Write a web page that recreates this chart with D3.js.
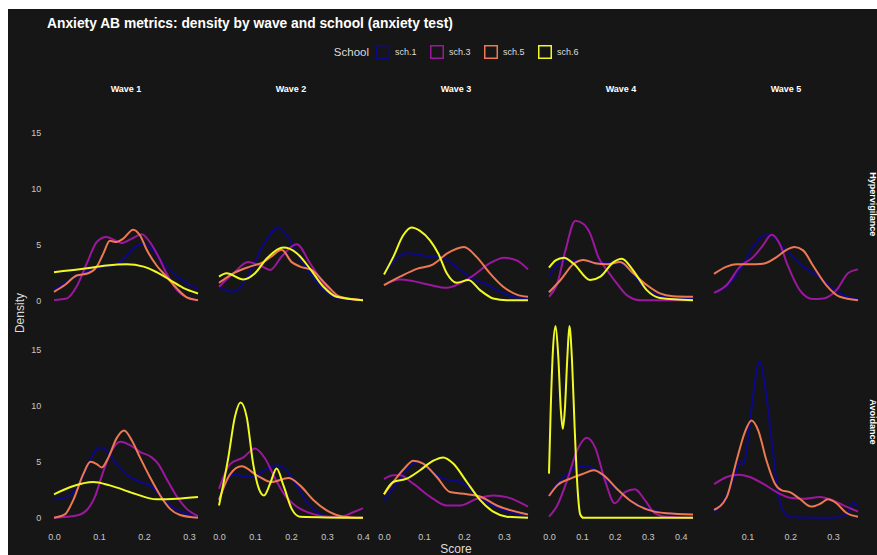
<!DOCTYPE html>
<html>
<head>
<meta charset="utf-8">
<script src="https://cdn.jsdelivr.net/npm/d3@7"></script>
<style>
  html, body { margin: 0; padding: 0; background: #ffffff; }
  svg { display: block; font-family: "Liberation Sans", Arial, sans-serif; }
</style>
</head>
<body>
<svg id="chart"></svg>
<script>
// ---- chart data ----
const SCHOOLS = ["sch.1", "sch.3", "sch.5", "sch.6"];
const SCHOOL_COLORS = ["#0d0887", "#9c179e", "#ed7953", "#f0f921"];
const WAVES = ["Wave 1", "Wave 2", "Wave 3", "Wave 4", "Wave 5"];
const METRICS = ["Hypervigilance", "Avoidance"];
const X_TICKS = [
    [0, 0.1, 0.2, 0.3],
    [0, 0.1, 0.2, 0.3, 0.4],
    [0, 0.1, 0.2, 0.3],
    [0, 0.1, 0.2, 0.3, 0.4],
    [0.1, 0.2, 0.3]
];
const Y_TICKS = [0, 5, 10, 15];

// Density curves, one list of [score, density] knots per school (sch.1, sch.3, sch.5, sch.6)
const hyper_w1 = [
    [[0, 0.9], [0.04, 1.9], [0.08, 2.7], [0.117, 3.0], [0.147, 3.4], [0.176, 4.6], [0.195, 5.05], [0.213, 4.75], [0.236, 3.6], [0.265, 2.4], [0.295, 1.5], [0.32, 1.0]],
    [[0, 0.02], [0.028, 0.15], [0.05, 1.2], [0.073, 3.3], [0.095, 5.2], [0.116, 5.65], [0.136, 5.35], [0.15, 5.1], [0.173, 5.5], [0.195, 5.9], [0.213, 5.2], [0.232, 3.9], [0.25, 2.4], [0.273, 0.9], [0.295, 0.25], [0.32, 0]],
    [[0, 0.75], [0.024, 1.35], [0.05, 2.2], [0.076, 2.4], [0.095, 3.0], [0.11, 4.2], [0.124, 5.3], [0.139, 5.2], [0.154, 5.5], [0.176, 6.3], [0.191, 5.8], [0.206, 4.5], [0.228, 3.1], [0.25, 2.1], [0.273, 1.05], [0.295, 0.25], [0.32, 0]],
    [[0, 2.5], [0.065, 2.8], [0.117, 3.1], [0.161, 3.2], [0.199, 3.0], [0.228, 2.5], [0.258, 1.8], [0.287, 1.1], [0.32, 0.6]]
];
const hyper_w2 = [
    [[0, 1.2], [0.035, 0.75], [0.058, 1.1], [0.086, 2.5], [0.123, 4.9], [0.165, 6.5], [0.197, 5.35], [0.225, 3.7], [0.253, 2.4], [0.29, 0.9], [0.327, 0.2], [0.4, 0]],
    [[0, 1.2], [0.04, 2.4], [0.081, 3.4], [0.114, 3.1], [0.142, 2.7], [0.174, 3.9], [0.216, 5.0], [0.253, 3.3], [0.29, 1.5], [0.327, 0.3], [0.4, 0]],
    [[0, 1.55], [0.04, 2.4], [0.086, 3.0], [0.123, 3.4], [0.146, 3.9], [0.174, 4.5], [0.202, 3.4], [0.225, 3.0], [0.257, 2.7], [0.299, 1.35], [0.336, 0.3], [0.4, 0]],
    [[0, 2.1], [0.021, 2.4], [0.068, 1.85], [0.1, 2.4], [0.132, 3.7], [0.179, 4.7], [0.216, 4.2], [0.253, 2.8], [0.29, 1.2], [0.327, 0.3], [0.4, 0]]
];
const hyper_w3 = [
    [[0, 2.3], [0.023, 3.4], [0.053, 4.2], [0.082, 4.1], [0.115, 3.9], [0.14, 3.9], [0.165, 3.4], [0.19, 2.7], [0.223, 1.9], [0.257, 1.4], [0.29, 0.75], [0.323, 0.3], [0.36, 0.1]],
    [[0, 1.35], [0.04, 1.85], [0.073, 1.7], [0.115, 1.35], [0.157, 1.1], [0.19, 1.5], [0.223, 2.2], [0.265, 3.3], [0.3, 3.8], [0.332, 3.55], [0.36, 2.75]],
    [[0, 1.35], [0.04, 2.1], [0.082, 2.8], [0.123, 3.2], [0.157, 4.15], [0.2, 4.75], [0.232, 3.85], [0.265, 2.4], [0.298, 1.2], [0.332, 0.5], [0.36, 0.3]],
    [[0, 2.3], [0.023, 3.85], [0.048, 5.8], [0.069, 6.5], [0.09, 6.2], [0.115, 5.35], [0.136, 4.15], [0.157, 2.4], [0.182, 1.55], [0.211, 1.8], [0.24, 0.9], [0.273, 0.15], [0.307, 0], [0.36, 0]]
];
const hyper_w4 = [
    [[0, 2.1], [0.035, 3.4], [0.065, 3.6], [0.105, 3.55], [0.166, 3.3], [0.216, 3.3], [0.246, 2.7], [0.287, 1.2], [0.327, 0.45], [0.377, 0.2], [0.4375, 0.15]],
    [[0, 0.3], [0.025, 1.5], [0.05, 4.45], [0.08, 7.1], [0.105, 6.8], [0.125, 5.95], [0.15, 3.85], [0.176, 2.7], [0.206, 1.5], [0.236, 0.45], [0.277, 0], [0.4375, 0]],
    [[0, 0.7], [0.035, 1.8], [0.075, 3.25], [0.105, 3.6], [0.14, 3.3], [0.176, 3.2], [0.216, 3.4], [0.256, 2.4], [0.297, 1.35], [0.337, 0.6], [0.377, 0.35], [0.4375, 0.3]],
    [[0, 2.9], [0.02, 3.55], [0.045, 3.8], [0.075, 3.25], [0.125, 1.8], [0.156, 2.1], [0.196, 3.4], [0.221, 3.7], [0.256, 2.65], [0.297, 0.9], [0.337, 0.2], [0.4375, 0]]
];
const hyper_w5 = [
    [[0.0213, 0.65], [0.051, 1.2], [0.082, 2.7], [0.113, 4.75], [0.14, 5.8], [0.156, 5.8], [0.175, 5.05], [0.199, 4.15], [0.23, 3.0], [0.261, 2.25], [0.3, 1.05], [0.331, 0.35], [0.3585, 0.05]],
    [[0.0213, 0.65], [0.051, 1.35], [0.082, 3.0], [0.113, 3.85], [0.136, 4.9], [0.156, 5.85], [0.175, 5.05], [0.194, 3.1], [0.222, 0.9], [0.253, 0.1], [0.277, 0.15], [0.308, 0.9], [0.335, 2.4], [0.3585, 2.75]],
    [[0.0213, 2.35], [0.051, 3.0], [0.074, 3.2], [0.105, 3.2], [0.136, 3.25], [0.168, 3.85], [0.191, 4.5], [0.21, 4.75], [0.23, 4.45], [0.253, 3.1], [0.284, 1.35], [0.316, 0.3], [0.3585, 0]],
    []
];

const avoid_w1 = [
    [[0, 1.65], [0.028, 1.85], [0.05, 2.6], [0.073, 4.5], [0.087, 5.7], [0.102, 6.3], [0.117, 6.0], [0.139, 4.8], [0.161, 3.9], [0.191, 3.2], [0.213, 2.9], [0.236, 2.0], [0.258, 1.1], [0.287, 0.45], [0.32, 0.1]],
    [[0, 0], [0.05, 0.2], [0.073, 0.7], [0.091, 1.9], [0.11, 4.2], [0.128, 6.0], [0.148, 6.8], [0.169, 6.5], [0.191, 5.9], [0.217, 5.4], [0.232, 4.8], [0.25, 3.5], [0.273, 1.9], [0.295, 0.8], [0.32, 0.15]],
    [[0, 0], [0.024, 0.3], [0.043, 1.6], [0.065, 3.9], [0.081, 5.0], [0.095, 4.8], [0.106, 4.5], [0.121, 5.4], [0.139, 7.1], [0.156, 7.8], [0.173, 6.9], [0.191, 5.4], [0.213, 3.65], [0.236, 2.0], [0.258, 0.8], [0.28, 0.25], [0.32, 0]],
    [[0, 2.1], [0.04, 2.8], [0.087, 3.2], [0.124, 2.9], [0.176, 2.2], [0.228, 1.65], [0.273, 1.7], [0.32, 1.85]]
];
const avoid_w2 = [
    [[0, 1.6], [0.04, 3.9], [0.077, 3.65], [0.1, 3.65], [0.128, 4.3], [0.16, 4.7], [0.188, 4.25], [0.216, 2.9], [0.244, 1.4], [0.271, 0.55], [0.308, 0.1], [0.4, 0]],
    [[0, 2.6], [0.031, 4.8], [0.068, 5.4], [0.1, 6.2], [0.128, 5.3], [0.156, 3.5], [0.183, 2.0], [0.216, 1.0], [0.262, 0.33], [0.308, 0.1], [0.345, 0.15], [0.373, 0.5], [0.4, 0.85]],
    [[0, 1.6], [0.031, 3.9], [0.063, 4.6], [0.105, 3.8], [0.146, 3.2], [0.193, 3.55], [0.225, 2.9], [0.262, 1.6], [0.308, 0.5], [0.345, 0.1], [0.4, 0]],
    [[0, 1.1], [0.026, 5.4], [0.044, 9.0], [0.06, 10.3], [0.077, 9.0], [0.095, 4.8], [0.112, 2.5], [0.125, 2.0], [0.142, 3.05], [0.16, 4.4], [0.179, 2.9], [0.202, 0.8], [0.225, 0.1], [0.4, 0]]
];
const avoid_w3 = [
    [[0, 1.55], [0.032, 3.05], [0.057, 4.3], [0.086, 5.0], [0.115, 4.25], [0.148, 3.5], [0.19, 3.2], [0.223, 2.3], [0.257, 1.4], [0.298, 0.7], [0.36, 0.15]],
    [[0, 3.45], [0.023, 3.8], [0.04, 3.8], [0.073, 3.05], [0.115, 1.9], [0.157, 1.1], [0.19, 1.1], [0.232, 1.7], [0.273, 2.0], [0.307, 1.85], [0.36, 1.0]],
    [[0, 2.1], [0.023, 3.2], [0.053, 4.5], [0.073, 5.1], [0.098, 4.85], [0.132, 3.65], [0.165, 2.3], [0.207, 2.1], [0.24, 1.9], [0.282, 1.1], [0.36, 0.3]],
    [[0, 2.1], [0.023, 3.2], [0.057, 3.5], [0.09, 4.25], [0.123, 5.1], [0.148, 5.4], [0.173, 4.85], [0.207, 3.2], [0.24, 1.6], [0.273, 0.55], [0.307, 0.1], [0.36, 0]]
];
const avoid_w4 = [
    [[0, 2.0], [0.035, 3.35], [0.075, 4.4], [0.105, 4.65], [0.136, 4.4], [0.176, 3.35], [0.216, 2.3], [0.256, 1.4], [0.307, 0.75], [0.377, 0.35], [0.4375, 0.25]],
    [[0, 0.1], [0.025, 1.1], [0.055, 3.35], [0.085, 6.0], [0.115, 7.15], [0.14, 6.3], [0.17, 3.35], [0.2, 1.3], [0.231, 2.3], [0.261, 2.55], [0.292, 1.55], [0.322, 0.4], [0.357, 0.1], [0.4375, 0]],
    [[0, 1.95], [0.025, 2.9], [0.065, 3.5], [0.105, 3.95], [0.136, 4.25], [0.166, 3.8], [0.206, 2.6], [0.246, 1.55], [0.297, 0.75], [0.357, 0.4], [0.4375, 0.3]],
    [[0, 3.95], [0.005, 9.5], [0.012, 15.0], [0.02, 17.15], [0.028, 14.5], [0.036, 9.6], [0.042, 7.95], [0.048, 9.6], [0.056, 14.5], [0.062, 17.15], [0.07, 14.0], [0.078, 8.0], [0.087, 2.5], [0.095, 0.3], [0.105, 0], [0.4375, 0]]
];
const avoid_w5 = [
    [[0.0213, 0.5], [0.05, 1.9], [0.07, 3.8], [0.082, 5.0], [0.09, 4.8], [0.1, 6.8], [0.113, 11.0], [0.128, 14.0], [0.142, 11.5], [0.156, 7.0], [0.17, 2.5], [0.185, 0.5], [0.2, 0.05], [0.3, 0], [0.33, 0.3], [0.347, 1.35], [0.3585, 1.0]],
    [[0.0213, 3.0], [0.051, 3.65], [0.078, 3.85], [0.105, 3.65], [0.136, 3.05], [0.168, 2.3], [0.199, 1.8], [0.23, 1.7], [0.269, 1.85], [0.3, 1.55], [0.331, 1.0], [0.3585, 0.55]],
    [[0.0213, 0.7], [0.051, 1.85], [0.074, 5.1], [0.093, 7.6], [0.109, 8.7], [0.125, 7.8], [0.144, 5.15], [0.164, 3.05], [0.18, 2.45], [0.199, 2.3], [0.222, 1.7], [0.249, 1.0], [0.272, 1.3], [0.288, 1.65], [0.308, 1.3], [0.331, 0.45], [0.3585, 0.1]],
    []
];

const HYPER_DATA = [hyper_w1, hyper_w2, hyper_w3, hyper_w4, hyper_w5];
const AVOID_DATA = [avoid_w1, avoid_w2, avoid_w3, avoid_w4, avoid_w5];
const ROWS_DATA = [HYPER_DATA, AVOID_DATA];

// ---- layout ----
const width = 877, height = 555;
const frame = { left: 8, top: 9 };
const panels = { left: 46.8, right: 865.2, top: 98.7, bottom: 527.4, gap: 6.6 };
const panel_w = (panels.right - panels.left - panels.gap * (WAVES.length - 1)) / WAVES.length;
const panel_h = (panels.bottom - panels.top - panels.gap * (METRICS.length - 1)) / METRICS.length;
const tick_color = "#c8c8c8";

const svg = d3.select("#chart")
    .attr("width", width)
    .attr("height", height);

// Dark plot background
svg.append("rect")
    .attr("x", frame.left).attr("y", frame.top)
    .attr("width", width - frame.left).attr("height", height - frame.top)
    .attr("fill", "#161616");

// Title
svg.append("text")
    .attr("x", 47).attr("y", 28)
    .attr("fill", "#ffffff")
    .attr("font-size", 13.8)
    .attr("font-weight", "bold")
    .text("Anxiety AB metrics: density by wave and school (anxiety test)");

// Legend
const legend = svg.append("g").attr("transform", "translate(0,52)");
legend.append("text")
    .attr("x", 369).attr("y", 4)
    .attr("text-anchor", "end")
    .attr("fill", "#dddddd")
    .attr("font-size", 11.5)
    .text("School");
SCHOOLS.forEach((s, i) => {
    const x0 = 376 + i * 54;
    legend.append("rect")
        .attr("x", x0 + 0.75).attr("y", -6.25)
        .attr("width", 12.5).attr("height", 12.5)
        .attr("fill", "none")
        .attr("stroke", SCHOOL_COLORS[i])
        .attr("stroke-width", 1.5);
    legend.append("text")
        .attr("x", x0 + 19).attr("y", 3)
        .attr("fill", "#dddddd")
        .attr("font-size", 9)
        .text(s);
});

// Shared y scale (same for every panel)
const all_y = ROWS_DATA.flat(3).map(p => p[1]);
const y_max = d3.max(all_y);
const y_scale = d3.scaleLinear()
    .domain([-0.05 * y_max, 1.05 * y_max])
    .range([panel_h, 0]);

// Free x scale per wave (shared by both rows of a column)
const x_scales = WAVES.map((w, j) => {
    const xs = [HYPER_DATA[j], AVOID_DATA[j]].flat(2).map(p => p[0]);
    const [lo, hi] = d3.extent(xs);
    const pad = (hi - lo) * 0.05;
    return d3.scaleLinear().domain([lo - pad, hi + pad]).range([0, panel_w]);
});

const density_line = (xs) => d3.line()
    .x(d => xs(d[0]))
    .y(d => y_scale(d[1]))
    .curve(d3.curveMonotoneX);

// Column strips
WAVES.forEach((w, j) => {
    svg.append("text")
        .attr("x", panels.left + j * (panel_w + panels.gap) + panel_w / 2)
        .attr("y", 92)
        .attr("text-anchor", "middle")
        .attr("fill", "#ffffff")
        .attr("font-size", 9)
        .attr("font-weight", "bold")
        .text(w);
});

// Row strips (rotated, on the right)
METRICS.forEach((m, r) => {
    const cy = panels.top + r * (panel_h + panels.gap) + panel_h / 2;
    svg.append("text")
        .attr("transform", `translate(869.5,${cy}) rotate(90)`)
        .attr("text-anchor", "middle")
        .attr("fill", "#ffffff")
        .attr("font-size", 9)
        .attr("font-weight", "bold")
        .text(m);
});

// Panels
METRICS.forEach((m, r) => {
    WAVES.forEach((w, j) => {
        const g = svg.append("g")
            .attr("transform", `translate(${panels.left + j * (panel_w + panels.gap)},${panels.top + r * (panel_h + panels.gap)})`);
        const xs = x_scales[j];

        // Density lines, drawn in legend order
        ROWS_DATA[r][j].forEach((pts, k) => {
            if (pts.length === 0) return;
            g.append("path")
                .datum(pts)
                .attr("d", density_line(xs))
                .attr("fill", "none")
                .attr("stroke", SCHOOL_COLORS[k])
                .attr("stroke-width", 2)
                .attr("stroke-linejoin", "round");
        });

        // Y axis only on the first column
        if (j === 0) {
            const ya = g.append("g")
                .call(d3.axisLeft(y_scale).tickValues(Y_TICKS).tickSize(0).tickPadding(5.5));
            ya.select(".domain").remove();
            ya.selectAll("text")
                .attr("fill", tick_color)
                .attr("font-size", 9)
                .attr("font-family", "Liberation Sans, Arial, sans-serif");
        }

        // X axis only on the bottom row
        if (r === METRICS.length - 1) {
            const xa = g.append("g")
                .attr("transform", `translate(0,${panel_h})`)
                .call(d3.axisBottom(xs).tickValues(X_TICKS[j]).tickFormat(d3.format(".1f")).tickSize(0).tickPadding(6));
            xa.select(".domain").remove();
            xa.selectAll("text")
                .attr("fill", tick_color)
                .attr("font-size", 9)
                .attr("font-family", "Liberation Sans, Arial, sans-serif");
        }
    });
});

// Axis titles
svg.append("text")
    .attr("x", (panels.left + panels.right) / 2).attr("y", 553)
    .attr("text-anchor", "middle")
    .attr("fill", "#dddddd")
    .attr("font-size", 12)
    .text("Score");
svg.append("text")
    .attr("transform", `translate(24,${(panels.top + panels.bottom) / 2}) rotate(-90)`)
    .attr("text-anchor", "middle")
    .attr("fill", "#dddddd")
    .attr("font-size", 12)
    .text("Density");
</script>
</body>
</html>
